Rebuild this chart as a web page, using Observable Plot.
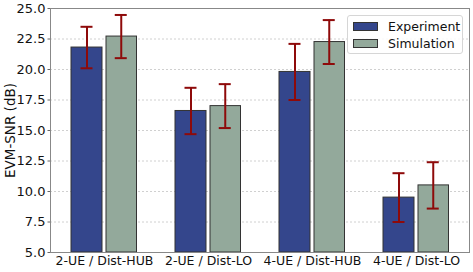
<!DOCTYPE html>
<html>
<head>
<meta charset="utf-8">
<script src="https://cdn.jsdelivr.net/npm/d3@7"></script>
<script src="https://cdn.jsdelivr.net/npm/@observablehq/plot@0.6"></script>
<style>
  html, body { margin: 0; padding: 0; background: #fff; }
  #wrap { position: relative; width: 473px; height: 272px; font-family: "DejaVu Sans", sans-serif; }
  #legend { position: absolute; left: 347px; top: 15px; width: 116px; height: 39px; box-sizing: border-box;
    border: 1px solid #d6d6d6; border-radius: 3px; background: rgba(255,255,255,0.85); font-size: 12.5px; color: #111; }
  .row { position: absolute; left: 5px; height: 15px; display: flex; align-items: center; white-space: nowrap; }
  .sw { width: 25px; height: 9px; border: 1px solid #333; box-sizing: border-box; margin-right: 10px; }
</style>
</head>
<body>
<div id="wrap">
  <div id="chart"></div>
  <div id="legend">
    <div class="row" style="top:3px"><div class="sw" style="background:#34468c"></div>Experiment</div>
    <div class="row" style="top:20px"><div class="sw" style="background:#93a99b"></div>Simulation</div>
  </div>
</div>
<script>
const categories = ["2-UE / Dist-HUB", "2-UE / Dist-LO", "4-UE / Dist-HUB", "4-UE / Dist-LO"];
const experiment = [21.8, 16.6, 19.8, 9.5];
const experimentErr = [1.7, 1.9, 2.3, 2.0];
const simulation = [22.7, 17.0, 22.25, 10.5];
const simulationErr = [1.77, 1.8, 1.8, 1.9];
const yTicks = [5, 7.5, 10, 12.5, 15, 17.5, 20, 22.5, 25];

const expData = categories.map((c, i) => ({cat: c, v: experiment[i], lo: experiment[i] - experimentErr[i], hi: experiment[i] + experimentErr[i]}));
const simData = categories.map((c, i) => ({cat: c, v: simulation[i], lo: simulation[i] - simulationErr[i], hi: simulation[i] + simulationErr[i]}));

const errColor = "#8e0a0a";
const chart = Plot.plot({
  width: 473,
  height: 272,
  marginLeft: 50,
  marginRight: 4,
  marginTop: 8,
  marginBottom: 20,
  style: {fontFamily: "DejaVu Sans, sans-serif", fontSize: "12px", color: "#111", background: "#fff"},
  x: {domain: categories, padding: 0, label: null},
  y: {domain: [5, 25], label: null},
  marks: [
    Plot.gridY(yTicks, {stroke: "#d0d0d0", strokeOpacity: 1, strokeDasharray: "2,2"}),
    Plot.axisY(yTicks, {tickSize: 2.5, tickPadding: 2.5, tickFormat: d => d.toFixed(1), fontSize: 13, stroke: "#666"}),
    Plot.axisX({tickSize: 0, tickPadding: 4, fontSize: 12.5}),
    Plot.text(["EVM-SNR (dB)"], {frameAnchor: "left", textAnchor: "middle", dx: -40, rotate: -90, fontSize: 13.5}),
    Plot.barY(expData, {x: "cat", y1: 5, y2: "v", fill: "#34468c", stroke: "#333", strokeWidth: 1, insetLeft: 19, insetRight: 54}),
    Plot.barY(simData, {x: "cat", y1: 5, y2: "v", fill: "#93a99b", stroke: "#333", strokeWidth: 1, insetLeft: 54, insetRight: 19.5}),
    Plot.ruleX(expData, {x: "cat", y1: "lo", y2: "hi", dx: -17.5, stroke: errColor, strokeWidth: 2}),
    Plot.ruleX(simData, {x: "cat", y1: "lo", y2: "hi", dx: 16.75, stroke: errColor, strokeWidth: 2}),
    Plot.tickY(expData, {x: "cat", y: "lo", insetLeft: 28.5, insetRight: 63.5, stroke: errColor, strokeWidth: 2}),
    Plot.tickY(expData, {x: "cat", y: "hi", insetLeft: 28.5, insetRight: 63.5, stroke: errColor, strokeWidth: 2}),
    Plot.tickY(simData, {x: "cat", y: "lo", insetLeft: 62.75, insetRight: 29.25, stroke: errColor, strokeWidth: 2}),
    Plot.tickY(simData, {x: "cat", y: "hi", insetLeft: 62.75, insetRight: 29.25, stroke: errColor, strokeWidth: 2}),
    Plot.frame({stroke: "#888"})
  ]
});
document.getElementById("chart").append(chart);
</script>
</body>
</html>
